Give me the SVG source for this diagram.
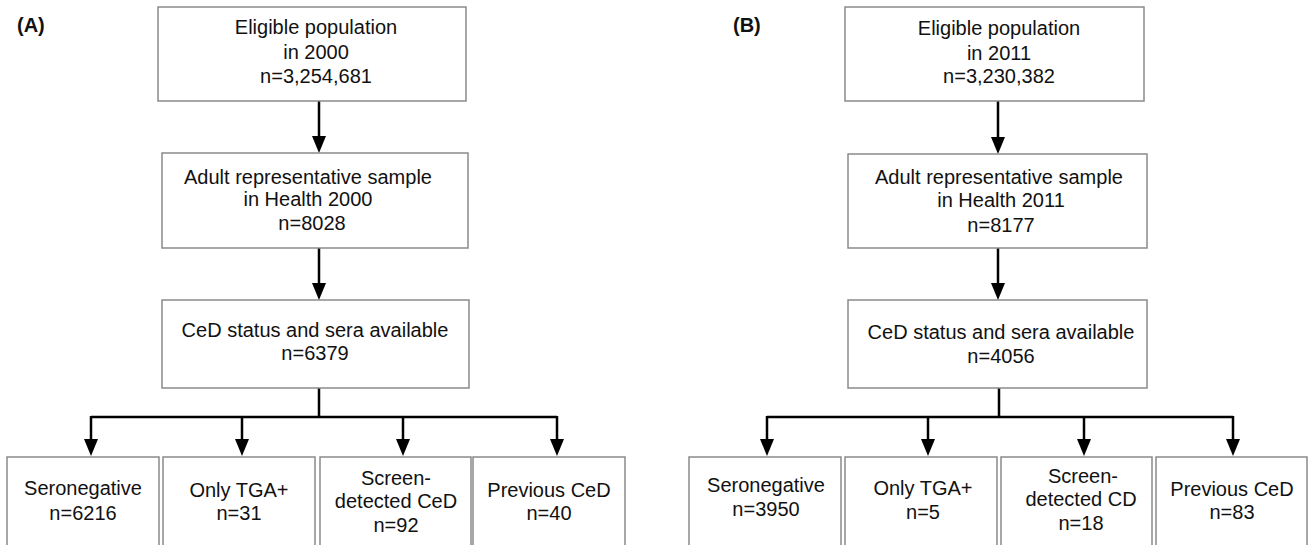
<svg xmlns="http://www.w3.org/2000/svg" width="1309" height="545" viewBox="0 0 1309 545">
<style>
.box{fill:#fff;stroke:#8a8a8a;stroke-width:1.5}
.t{font-family:"Liberation Sans",Arial,sans-serif;font-size:20px;fill:#111;text-anchor:middle}
.lbl{font-family:"Liberation Sans",Arial,sans-serif;font-size:20px;font-weight:bold;fill:#111}
.c{fill:none;stroke:#000;stroke-width:2.5}
</style>
<defs>
<marker id="ah" markerUnits="userSpaceOnUse" viewBox="0 0 17 14" refX="0" refY="7" markerWidth="17" markerHeight="14" orient="auto">
<path d="M0,0 L17,7 L0,14 z" fill="#000"/>
</marker>
</defs>
<rect width="1309" height="545" fill="#fff"/>
<text class="lbl" x="17" y="32">(A)</text>
<text class="lbl" x="733" y="32">(B)</text>

<g id="connectors">
<path class="c" d="M319,101 V136" marker-end="url(#ah)"/>
<path class="c" d="M319,248 V283" marker-end="url(#ah)"/>
<path class="c" d="M319,388 V417 M91,417 H557"/>
<path class="c" d="M91,416 V439" marker-end="url(#ah)"/>
<path class="c" d="M242,416 V439" marker-end="url(#ah)"/>
<path class="c" d="M403,416 V439" marker-end="url(#ah)"/>
<path class="c" d="M557,416 V439" marker-end="url(#ah)"/>
<path class="c" d="M998,101 V137" marker-end="url(#ah)"/>
<path class="c" d="M998,248 V283" marker-end="url(#ah)"/>
<path class="c" d="M999,388 V417 M767,417 H1233"/>
<path class="c" d="M767,416 V439" marker-end="url(#ah)"/>
<path class="c" d="M928,416 V439" marker-end="url(#ah)"/>
<path class="c" d="M1084,416 V439" marker-end="url(#ah)"/>
<path class="c" d="M1233,416 V439" marker-end="url(#ah)"/>
</g>

<g id="a-eligible">
<rect class="box" x="158" y="7" width="308" height="94"/>
<text class="t" x="316" y="34">Eligible population</text>
<text class="t" x="316" y="59">in 2000</text>
<text class="t" x="316" y="83">n=3,254,681</text>
</g>
<g id="a-sample">
<rect class="box" x="162" y="153" width="306" height="95"/>
<text class="t" x="308" y="184">Adult representative sample</text>
<text class="t" x="308" y="206">in Health 2000</text>
<text class="t" x="312" y="230">n=8028</text>
</g>
<g id="a-status">
<rect class="box" x="162" y="300" width="307" height="88"/>
<text class="t" x="315" y="337">CeD status and sera available</text>
<text class="t" x="315" y="360">n=6379</text>
</g>
<g id="a-seroneg">
<rect class="box" x="7" y="457" width="152" height="100"/>
<text class="t" x="83" y="495">Seronegative</text>
<text class="t" x="83" y="520">n=6216</text>
</g>
<g id="a-tga">
<rect class="box" x="163" y="457" width="152" height="100"/>
<text class="t" x="239" y="497">Only TGA+</text>
<text class="t" x="239" y="520">n=31</text>
</g>
<g id="a-screen">
<rect class="box" x="320" y="457" width="151" height="100"/>
<text class="t" x="396" y="485">Screen-</text>
<text class="t" x="396" y="508">detected CeD</text>
<text class="t" x="396" y="532">n=92</text>
</g>
<g id="a-previous">
<rect class="box" x="473" y="457" width="152" height="100"/>
<text class="t" x="549" y="497">Previous CeD</text>
<text class="t" x="549" y="520">n=40</text>
</g>

<g id="b-eligible">
<rect class="box" x="845" y="7" width="299" height="94"/>
<text class="t" x="999" y="35">Eligible population</text>
<text class="t" x="999" y="60">in 2011</text>
<text class="t" x="999" y="83">n=3,230,382</text>
</g>
<g id="b-sample">
<rect class="box" x="848" y="154" width="299" height="94"/>
<text class="t" x="999" y="184">Adult representative sample</text>
<text class="t" x="1001" y="207">in Health 2011</text>
<text class="t" x="1001" y="232">n=8177</text>
</g>
<g id="b-status">
<rect class="box" x="848" y="300" width="299" height="88"/>
<text class="t" x="1001" y="339">CeD status and sera available</text>
<text class="t" x="1001" y="363">n=4056</text>
</g>
<g id="b-seroneg">
<rect class="box" x="689" y="457" width="152" height="100"/>
<text class="t" x="766" y="492">Seronegative</text>
<text class="t" x="766" y="516">n=3950</text>
</g>
<g id="b-tga">
<rect class="box" x="845" y="457" width="152" height="100"/>
<text class="t" x="923" y="495">Only TGA+</text>
<text class="t" x="923" y="519">n=5</text>
</g>
<g id="b-screen">
<rect class="box" x="1001" y="457" width="151" height="100"/>
<text class="t" x="1083" y="483">Screen-</text>
<text class="t" x="1081" y="506">detected CD</text>
<text class="t" x="1081" y="530">n=18</text>
</g>
<g id="b-previous">
<rect class="box" x="1156" y="457" width="151" height="100"/>
<text class="t" x="1232" y="496">Previous CeD</text>
<text class="t" x="1232" y="519">n=83</text>
</g>
</svg>
